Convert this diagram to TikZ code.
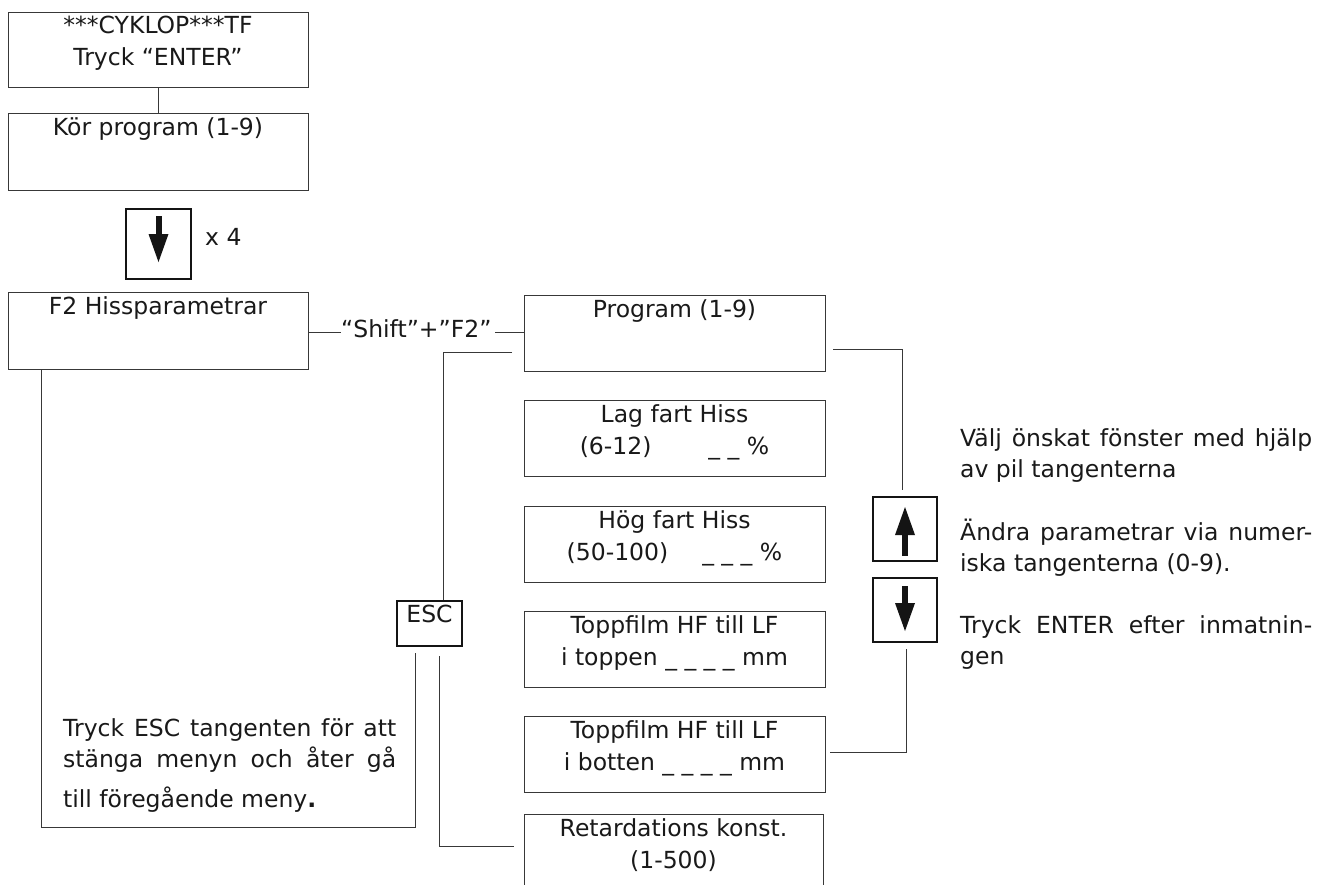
\documentclass[tikz,border=0pt]{standalone}
\usepackage{fontspec}
\setmainfont{DejaVu Sans}
\usetikzlibrary{calc}
\begin{document}
\begin{tikzpicture}[x=1pt,y=-1pt,
  font=\fontsize{23.5}{32}\selectfont,
  menubox/.style={draw=black!78, line width=1pt, inner sep=0pt, minimum width=300pt, minimum height=76pt},
  keybox/.style={draw=black!92, line width=2pt, inner sep=0pt, minimum width=64pt, minimum height=64pt},
  boxtxt/.style={anchor=north, inner sep=0pt, align=center, text=black!90},
  lbl/.style={inner sep=0pt, text=black!90},
  conn/.style={draw=black!78, line width=1pt},
  para/.style={anchor=north west, inner sep=0pt, align=justify, text=black!90, font=\fontsize{23.5}{31}\selectfont},
  glyph/.style={fill=black!92}
]
\useasboundingbox (0,0) rectangle (1332,884);
\clip (0,0) rectangle (1332,884);
\fill[white] (0,0) rectangle (1332,884);

% left column
\node[menubox, minimum height=75pt] (b1) at (158,49.5) {};
\node[boxtxt] (b1t) at ([yshift=1pt]b1.north) {\strut ***CYKLOP***TF\\Tryck “ENTER”};
\node[menubox, minimum height=77pt] (b2) at (158,151.5) {};
\node[boxtxt] (b2t) at (b2.north) {\strut Kör program (1-9)};
\draw[conn] (b1.south) -- (b2.north);

\node[keybox, minimum width=65pt, minimum height=70pt] (k1) at (158.5,244) {};
\fill[glyph] ($(k1.north)+(-3,8)$) rectangle ($(k1.north)+(3,27)$);
\fill[glyph] ($(k1.north)+(-10,26)$) -- ($(k1.north)+(10,26)$) -- ($(k1.north)+(0,54)$) -- cycle;
\node[lbl, anchor=base west] (x4) at (205,245) {x 4};

\node[menubox, minimum height=77pt] (f2) at (158,330.5) {};
\node[boxtxt] (f2t) at (f2.north) {\strut F2 Hissparametrar};

\node[lbl, anchor=base west] (sh) at (341,337) {“Shift”+”F2”};
\coordinate (shl) at (341,332);
\coordinate (shr) at (495,332);

% middle column
\node[menubox, minimum width=301pt] (prog) at (674.5,333) {};
\node[boxtxt] (progt) at (prog.north) {\strut Program (1-9)};
\node[menubox, minimum width=301pt] (lag) at (674.5,438) {};
\node[boxtxt] (lagt) at (lag.north) {\strut Lag fart Hiss\\(6-12)\hspace{57pt}\textunderscore{} \textunderscore{} \%};
\node[menubox, minimum width=301pt] (hog) at (674.5,544) {};
\node[boxtxt] (hogt) at (hog.north) {\strut Hög fart Hiss\\(50-100)\hspace{34pt}\textunderscore{} \textunderscore{} \textunderscore{} \%};
\node[menubox, minimum width=301pt] (t1) at (674.5,649) {};
\node[boxtxt] (t1t) at (t1.north) {\strut Toppfilm HF till LF\\i toppen \textunderscore{} \textunderscore{} \textunderscore{} \textunderscore{} mm};
\node[menubox, minimum width=301pt] (t2) at (674.5,754) {};
\node[boxtxt] (t2t) at (t2.north) {\strut Toppfilm HF till LF\\i botten \textunderscore{} \textunderscore{} \textunderscore{} \textunderscore{} mm};
\node[menubox, minimum width=299pt] (ret) at (673.5,852) {};
\node[boxtxt] (rett) at (ret.north) {\strut Retardations konst.\\(1-500)};

\draw[conn] (f2.east |- shl) -- (shl);
\draw[conn] (shr) -- (prog.west |- shr);

% ESC
\node[keybox, minimum width=65pt, minimum height=45pt] (esc) at (429.5,623.5) {};
\node[boxtxt] (esct) at (esc.north) {\strut ESC};

\coordinate (pl) at (512,352);
\coordinate (pe) at (443,352);
\draw[conn] (pl) -- (pe) -- (pe |- esc.north);

\coordinate (fb) at (41,827);
\coordinate (fc) at (415,827);
\coordinate (fd) at (415,653);
\draw[conn] (f2.south -| fb) -- (fb) -- (fc) -- (fd);

\coordinate (ga) at (439,656);
\coordinate (gb) at (439,846);
\coordinate (gc) at (514,846);
\draw[conn] (ga) -- (gb) -- (gc);

\node[para, text width=333pt] (esctext) at (63,714.6) {{\parfillskip=0pt\strut Tryck ESC tangenten för att\linebreak stänga menyn och åter gå\par}\vspace{9pt}till föregående meny{\bfseries.}};

% right column
\node[keybox] (ku) at (905,529) {};
\fill[glyph] ($(ku.north)+(-10,39)$) -- ($(ku.north)+(10,39)$) -- ($(ku.north)+(0,11)$) -- cycle;
\fill[glyph] ($(ku.north)+(-3,38)$) rectangle ($(ku.north)+(3,60)$);
\node[keybox] (kd) at (905,610) {};
\fill[glyph] ($(kd.north)+(-3,9)$) rectangle ($(kd.north)+(3,27)$);
\fill[glyph] ($(kd.north)+(-10,26)$) -- ($(kd.north)+(10,26)$) -- ($(kd.north)+(0,54)$) -- cycle;

\coordinate (ra) at (833,349);
\coordinate (rb) at (902,349);
\coordinate (rc) at (902,490);
\draw[conn] (ra) -- (rb) -- (rc);
\coordinate (sa) at (906,649);
\coordinate (sb) at (906,752);
\coordinate (sc) at (830,752);
\draw[conn] (sa) -- (sb) -- (sc);

\node[para, text width=352pt] (help) at (960,424.6) {\strut Välj önskat fönster med hjälp\linebreak av pil tangenterna\par\vspace{32pt}Ändra parametrar via numer-\linebreak iska tangenterna (0-9).\par\vspace{31pt}Tryck ENTER efter inmatnin-\linebreak gen};
\end{tikzpicture}
\end{document}
